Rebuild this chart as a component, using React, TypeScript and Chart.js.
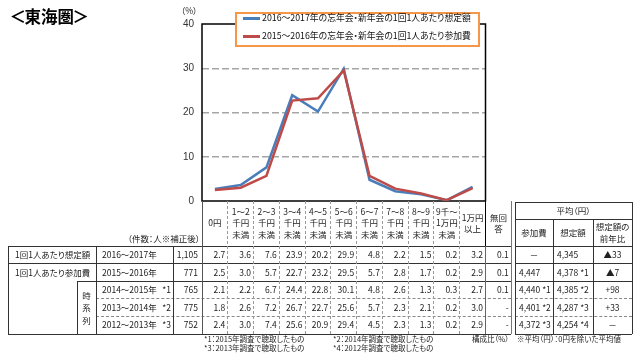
import React, { useEffect, useRef } from "react";
import { Chart, registerables } from "chart.js";
Chart.register(...registerables);

// ---------- data ----------
const headerLabels = [
  "0円", "1～2\n千円\n未満", "2～3\n千円\n未満", "3～4\n千円\n未満", "4～5\n千円\n未満",
  "5～6\n千円\n未満", "6～7\n千円\n未満", "7～8\n千円\n未満", "8～9\n千円\n未満",
  "9千～\n1万円\n未満", "1万円\n以上", "無回\n答",
];
const categories = headerLabels.slice(0, 11).map((s) => s.replace(/\n/g, ""));
const estimate2016 = [2.7, 3.6, 7.6, 23.9, 20.2, 29.9, 4.8, 2.2, 1.5, 0.2, 3.2];
const actual2015 = [2.5, 3.0, 5.7, 22.7, 23.2, 29.5, 5.7, 2.8, 1.7, 0.2, 2.9];
const series2014 = [2.1, 2.2, 6.7, 24.4, 22.8, 30.1, 4.8, 2.6, 1.3, 0.3, 2.7];
const series2013 = [1.8, 2.6, 7.2, 26.7, 22.7, 25.6, 5.7, 2.3, 2.1, 0.2, 3.0];
const series2012 = [2.4, 3.0, 7.4, 25.6, 20.9, 29.4, 4.5, 2.3, 1.3, 0.2, 2.9];
const noAnswer = ["0.1", "0.1", "0.1", "-", "-"];
const counts = ["1,105", "771", "765", "775", "752"];
const rowTitles = ["1回1人あたり想定額", "1回1人あたり参加費"];
const years = ["2016～2017年", "2015～2016年", "2014～2015年", "2013～2014年", "2012～2013年"];
const yearMarks = ["", "", "*1", "*2", "*3"];
const avgFee = ["－", "4,447", "4,440 *1", "4,401 *2", "4,372 *3"];
const avgEstimate = ["4,345", "4,378 *1", "4,385 *2", "4,287 *3", "4,254 *4"];
const avgChange = ["▲33", "▲7", "+98", "+33", "－"];
const legendLabels = [
  "2016～2017年の忘年会・新年会の1回1人あたり想定額",
  "2015～2016年の忘年会・新年会の1回1人あたり参加費",
];
const yMin = 0;
const yMax = 40;
const yStep = 10;

const tableRows = [estimate2016, actual2015, series2014, series2013, series2012];

// ---------- layout ----------
const BLUE = "#4a7ebb";
const RED = "#be4b48";
const PL = 202, PR = 485.5, PT = 24, PB = 201;
const colW = (PR - PL) / 11;
const colX = (i: number) => PL + i * colW;
const rowY = [246, 263.6, 281.2, 298.8, 316.4, 334];
const TEXT = "#222";

function Txt(p: any) {
  const { x, y, w, h, align = "center", size = 8.5, lh, bold, pr = 0, pl = 0, children, color } = p;
  return (
    <div
      style={{
        position: "absolute", left: x, top: y, width: w, height: h,
        display: "flex", alignItems: "center",
        justifyContent: align === "left" ? "flex-start" : align === "right" ? "flex-end" : "center",
        textAlign: align, fontSize: size, lineHeight: lh ? lh + "px" : "1.15",
        whiteSpace: "pre", fontWeight: bold ? 700 : 400, paddingRight: pr, paddingLeft: pl,
        boxSizing: "border-box", color: color || TEXT,
      }}
    >
      {children}
    </div>
  );
}
function HL(p: any) {
  const { x1, x2, y, color = "#333", dashed = false, w = 1 } = p;
  return <div style={{ position: "absolute", left: x1, top: y - w / 2, width: x2 - x1, height: 0, borderTop: `${w}px ${dashed ? "dashed" : "solid"} ${color}` }} />;
}
function VL(p: any) {
  const { x, y1, y2, color = "#333", dashed = false, w = 1 } = p;
  return <div style={{ position: "absolute", left: x - w / 2, top: y1, width: 0, height: y2 - y1, borderLeft: `${w}px ${dashed ? "dashed" : "solid"} ${color}` }} />;
}

const framePlugin = {
  id: "frame",
  beforeDatasetsDraw(chart: any) {
    const { ctx, chartArea: a } = chart;
    ctx.save();
    ctx.strokeStyle = "#000";
    ctx.lineWidth = 1.5;
    ctx.strokeRect(a.left, a.top, a.right - a.left, a.bottom - a.top);
    ctx.restore();
  },
};

export default function App() {
  const ref = useRef<HTMLCanvasElement>(null);
  useEffect(() => {
    const chart = new Chart(ref.current as HTMLCanvasElement, {
      type: "line",
      data: {
        labels: categories,
        datasets: [
          { label: legendLabels[0], data: estimate2016, borderColor: BLUE, borderWidth: 2.5, pointRadius: 0, tension: 0, order: 1 },
          { label: legendLabels[1], data: actual2015, borderColor: RED, borderWidth: 2.5, pointRadius: 0, tension: 0, order: 0 },
        ],
      },
      options: {
        responsive: false,
        animation: false,
        devicePixelRatio: 1,
        layout: { padding: { left: PL - 22, right: 640 - PR, top: PT, bottom: 357 - PB } },
        plugins: { legend: { display: false }, tooltip: { enabled: false } },
        scales: {
          x: { type: "category", display: false, offset: true },
          y: {
            min: yMin, max: yMax,
            afterFit: (s: any) => { s.width = 22; },
            ticks: { stepSize: yStep, padding: 8, color: "#333", font: { size: 10, family: "'Liberation Sans', Arial, sans-serif" } },
            grid: {
              drawTicks: false,
              lineWidth: 1.5,
              color: (c: any) => (c.tick && (c.tick.value === yMin || c.tick.value === yMax) ? "rgba(0,0,0,0)" : "#a6a6a6"),
            },
            border: { display: false, dash: [7, 3] },
          },
        },
      },
      plugins: [framePlugin],
    } as any);
    return () => chart.destroy();
  }, []);

  const els: any[] = [];
  // main table lines
  els.push(<HL key="h0" x1={8} x2={511} y={rowY[0]} />);
  els.push(<HL key="h1" x1={8} x2={511} y={rowY[1]} />);
  els.push(<HL key="h2" x1={77} x2={511} y={rowY[2]} />);
  els.push(<HL key="h3" x1={96} x2={511} y={rowY[3]} dashed color="#888" />);
  els.push(<HL key="h4" x1={96} x2={511} y={rowY[4]} dashed color="#888" />);
  els.push(<HL key="h5" x1={8} x2={511} y={rowY[5]} />);
  els.push(<VL key="v8" x={8} y1={rowY[0]} y2={rowY[5]} />);
  els.push(<VL key="v96" x={96} y1={rowY[0]} y2={rowY[5]} />);
  els.push(<VL key="v173" x={173} y1={rowY[0]} y2={rowY[5]} />);
  els.push(<VL key="v77" x={77} y1={rowY[2]} y2={rowY[5]} />);
  els.push(<VL key="v202" x={PL} y1={PB} y2={rowY[5]} color="#555" />);
  els.push(<VL key="vR1" x={PR} y1={PB} y2={rowY[0]} color="#000" w={1.5} />);
  els.push(<VL key="vR2" x={PR} y1={rowY[0]} y2={rowY[5]} color="#666" />);
  els.push(<VL key="vR3" x={colX(12)} y1={PB} y2={rowY[5]} color="#777" />);
  for (let i = 1; i <= 10; i++) els.push(<VL key={"vd" + i} x={colX(i)} y1={PB} y2={rowY[5]} dashed color="#999" />);

  // header labels
  headerLabels.forEach((t, i) =>
    els.push(<Txt key={"hd" + i} x={colX(i)} y={PB} w={colW} h={rowY[0] - PB - 1} lh={11.5}>{t}</Txt>)
  );
  els.push(<Txt key="cnt" x={110} y={231} w={90} h={16} align="right">（件数：人※補正後）</Txt>);

  // rows
  tableRows.forEach((r, ri) => {
    const y = rowY[ri], h = rowY[ri + 1] - rowY[ri];
    if (ri < 2) els.push(<Txt key={"rt" + ri} x={15} y={y} w={80} h={h} align="left">{rowTitles[ri]}</Txt>);
    els.push(<Txt key={"yr" + ri} x={102} y={y} w={70} h={h} align="left">{years[ri]}</Txt>);
    if (yearMarks[ri]) els.push(<Txt key={"ym" + ri} x={150} y={y} w={22} h={h} align="right" pr={1}>{yearMarks[ri]}</Txt>);
    els.push(<Txt key={"cn" + ri} x={173} y={y} w={29} h={h} align="right" pr={4}>{counts[ri]}</Txt>);
    r.forEach((v, ci) =>
      els.push(<Txt key={"d" + ri + "_" + ci} x={colX(ci)} y={y} w={colW} h={h} align="right" pr={2.5}>{v.toFixed(1)}</Txt>)
    );
    els.push(<Txt key={"na" + ri} x={colX(11)} y={y} w={colW} h={h} align="right" pr={2.5}>{noAnswer[ri]}</Txt>);
  });
  els.push(<Txt key="jk" x={77} y={rowY[2]} w={19} h={rowY[5] - rowY[2]} lh={12.5}>{"時\n系\n列"}</Txt>);

  // right table
  const RX = [515, 553, 593, 632];
  els.push(<HL key="rh0" x1={RX[0]} x2={RX[3]} y={202} />);
  els.push(<HL key="rh1" x1={RX[0]} x2={RX[3]} y={219} />);
  [0, 1, 2].forEach((i) => els.push(<HL key={"rhr" + i} x1={RX[0]} x2={RX[3]} y={rowY[i]} />));
  [3, 4].forEach((i) => els.push(<HL key={"rhd" + i} x1={RX[0]} x2={RX[3]} y={rowY[i]} dashed color="#888" />));
  els.push(<HL key="rh5" x1={RX[0]} x2={RX[3]} y={rowY[5]} />);
  els.push(<VL key="rv0" x={RX[0]} y1={202} y2={rowY[5]} />);
  els.push(<VL key="rv3" x={RX[3]} y1={202} y2={rowY[5]} />);
  els.push(<VL key="rv1" x={RX[1]} y1={219} y2={rowY[5]} />);
  els.push(<VL key="rv2" x={RX[2]} y1={219} y2={rowY[5]} />);
  els.push(<Txt key="avg" x={RX[0]} y={202} w={RX[3] - RX[0]} h={17}>平均（円）</Txt>);
  els.push(<Txt key="s1" x={RX[0]} y={219} w={RX[1] - RX[0]} h={27}>参加費</Txt>);
  els.push(<Txt key="s2" x={RX[1]} y={219} w={RX[2] - RX[1]} h={27}>想定額</Txt>);
  els.push(<Txt key="s3" x={RX[2]} y={219} w={RX[3] - RX[2]} h={27} lh={11.5}>{"想定額の\n前年比"}</Txt>);
  for (let ri = 0; ri < 5; ri++) {
    const y = rowY[ri], h = rowY[ri + 1] - rowY[ri];
    const f = avgFee[ri];
    els.push(<Txt key={"af" + ri} x={RX[0]} y={y} w={RX[1] - RX[0]} h={h} align={f === "－" ? "center" : "left"} pl={f === "－" ? 0 : 4}>{f}</Txt>);
    els.push(<Txt key={"ae" + ri} x={RX[1]} y={y} w={RX[2] - RX[1]} h={h} align="left" pl={4}>{avgEstimate[ri]}</Txt>);
    els.push(<Txt key={"ac" + ri} x={RX[2]} y={y} w={RX[3] - RX[2]} h={h}>{avgChange[ri]}</Txt>);
  }

  // footnotes
  const fn = 7.5;
  els.push(<Txt key="f1" x={204} y={334} w={130} h={10} align="left" size={fn}>*1：2015年調査で聴取したもの</Txt>);
  els.push(<Txt key="f3" x={204} y={343.5} w={130} h={10} align="left" size={fn}>*3：2013年調査で聴取したもの</Txt>);
  els.push(<Txt key="f2" x={333} y={334} w={130} h={10} align="left" size={fn}>*2：2014年調査で聴取したもの</Txt>);
  els.push(<Txt key="f4" x={333} y={343.5} w={130} h={10} align="left" size={fn}>*4：2012年調査で聴取したもの</Txt>);
  els.push(<Txt key="f5" x={472} y={334} w={45} h={10} align="left" size={fn}>構成比（%）</Txt>);
  els.push(<Txt key="f6" x={517} y={334} w={122} h={10} align="left" size={fn}>※平均（円）：0円を除いた平均値</Txt>);

  const br = { display: "inline-block", margin: "0 -1.5px" } as any;

  return (
    <div
      style={{
        position: "absolute", left: 0, top: 0, width: 640, height: 357, overflow: "hidden", background: "#fff",
        fontFamily: "'Noto Sans CJK JP', 'Noto Sans', sans-serif", fontFeatureSettings: '"palt"', color: TEXT,
      }}
    >
      <canvas ref={ref} width={640} height={357} style={{ position: "absolute", left: 0, top: 0, width: 640, height: 357 }} />
      <Txt x={11} y={6} w={90} h={20} align="left" size={16.5} bold color="#000" lh={20}>
        <span style={br}>＜</span>東海圏<span style={br}>＞</span>
      </Txt>
      <Txt x={181} y={5} w={22} h={12} align="left" size={8.5}>（%）</Txt>
      <div style={{ position: "absolute", left: 235, top: 12, width: 245, height: 35, border: "2px solid #f79646", background: "#fff", boxSizing: "border-box" }} />
      <div style={{ position: "absolute", left: 243, top: 16.5, width: 17, height: 3, background: BLUE }} />
      <div style={{ position: "absolute", left: 243, top: 34.5, width: 17, height: 3, background: RED }} />
      <Txt x={262} y={11} w={216} h={14} align="left" size={8.8} color="#111">{legendLabels[0]}</Txt>
      <Txt x={262} y={29} w={216} h={14} align="left" size={8.8} color="#111">{legendLabels[1]}</Txt>
      {els}
    </div>
  );
}
